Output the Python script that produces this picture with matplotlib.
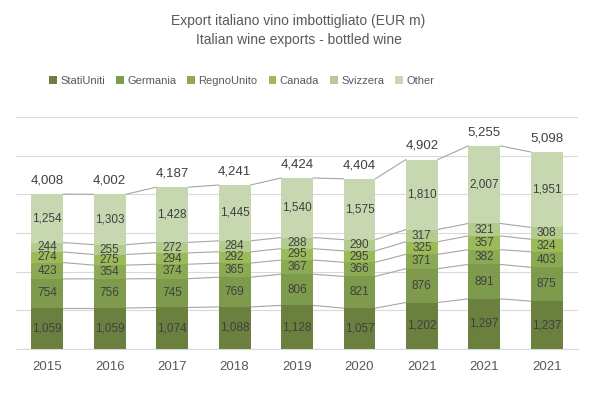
import numpy as np
import matplotlib.pyplot as plt

years = ["2015", "2016", "2017", "2018", "2019", "2020", "2021", "2021", "2021"]
series_names = ["StatiUniti", "Germania", "RegnoUnito", "Canada", "Svizzera", "Other"]
stati_uniti = [1059, 1059, 1074, 1088, 1128, 1057, 1202, 1297, 1237]
germania = [754, 756, 745, 769, 806, 821, 876, 891, 875]
regno_unito = [423, 354, 374, 365, 367, 366, 371, 382, 403]
canada = [274, 275, 294, 292, 295, 295, 325, 357, 324]
svizzera = [244, 255, 272, 284, 288, 290, 317, 321, 308]
other = [1254, 1303, 1428, 1445, 1540, 1575, 1810, 2007, 1951]
totals = [4008, 4002, 4187, 4241, 4424, 4404, 4902, 5255, 5098]

colors = ["#6b7f3f", "#7e9a4c", "#8caa54", "#9bbb59", "#b4cb8f", "#c7d7b0"]

plt.rcParams["font.family"] = ["Liberation Sans", "DejaVu Sans"]

fig = plt.figure(figsize=(5.97, 3.97), dpi=100)
ax = fig.add_axes([0.027, 0.121, 0.941, 0.584])

x = np.arange(len(years))
width = 0.51
data = [stati_uniti, germania, regno_unito, canada, svizzera, other]
bottom = np.zeros(len(years))
for name, vals, col in zip(series_names, data, colors):
    vals = np.array(vals, dtype=float)
    ax.bar(x, vals, width, bottom=bottom, color=col, label=name, zorder=2)
    for xi, b, v in zip(x, bottom, vals):
        ax.text(xi, b + v / 2, f"{int(v):,}", ha="center", va="center",
                fontsize=8.5, color="#404040", zorder=4)
    top = bottom + vals
    # series lines between bars
    for i in range(len(years) - 1):
        ax.plot([x[i] + width / 2, x[i + 1] - width / 2], [top[i], top[i + 1]],
                color="#a6a6a6", lw=0.8, zorder=1)
    bottom = top

for xi, t in zip(x, totals):
    ax.text(xi, t + 200, f"{t:,}", ha="center", va="bottom",
            fontsize=9.5, color="#404040")

ax.set_ylim(0, 6000)
ax.set_xlim(-0.5, len(years) - 0.5)
ax.set_yticks(range(0, 6001, 1000))
ax.yaxis.grid(True, color="#d9d9d9", lw=0.8, zorder=0)
ax.set_axisbelow(True)
ax.tick_params(axis="y", left=False, labelleft=False)
ax.tick_params(axis="x", length=0, pad=9, labelsize=9.5, labelcolor="#595959")
ax.set_xticks(x)
ax.set_xticklabels(years)
for s in ["top", "right", "left"]:
    ax.spines[s].set_visible(False)
ax.spines["bottom"].set_color("#d9d9d9")

fig.text(0.5, 0.947, "Export italiano vino imbottigliato (EUR m)", ha="center",
         va="center", fontsize=10, color="#595959")
fig.text(0.5, 0.898, "Italian wine exports - bottled wine", ha="center",
         va="center", fontsize=10, color="#595959")

fig.legend(loc="center", bbox_to_anchor=(0.405, 0.797), ncol=6, frameon=False,
           fontsize=8, labelcolor="#595959", handlelength=0.7, handleheight=0.7,
           handletextpad=0.3, columnspacing=1.0)

fig.savefig("out.png", dpi=100)
